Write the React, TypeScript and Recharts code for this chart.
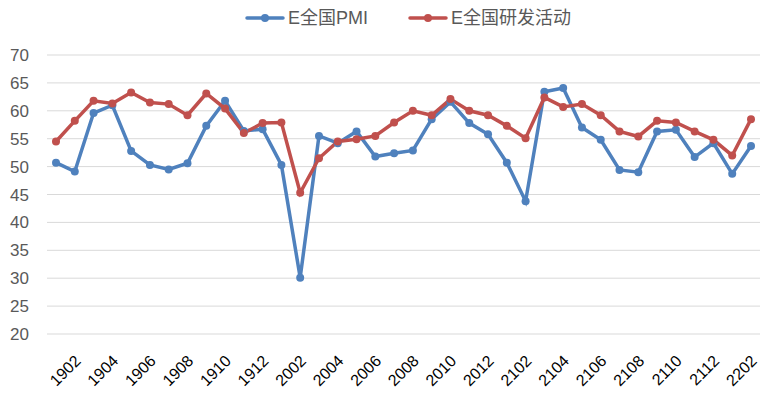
import React from "react";
import { LineChart, Line, XAxis, YAxis, CartesianGrid } from "recharts";

const MONTHS = [
  "1901", "1902", "1903", "1904", "1905", "1906", "1907", "1908", "1909", "1910", "1911", "1912",
  "2001", "2002", "2003", "2004", "2005", "2006", "2007", "2008", "2009", "2010", "2011", "2012",
  "2101", "2102", "2103", "2104", "2105", "2106", "2107", "2108", "2109", "2110", "2111", "2112",
  "2201", "2202",
];

const PMI = [
  50.7, 49.1, 59.6, 61.0, 52.8, 50.3, 49.5, 50.6, 57.3, 61.8, 56.4, 56.7,
  50.3, 30.1, 55.5, 54.2, 56.3, 51.8, 52.4, 52.9, 58.5, 61.6, 57.8, 55.8,
  50.7, 43.8, 63.4, 64.1, 57.0, 54.8, 49.4, 49.0, 56.3, 56.6, 51.7, 54.2,
  48.7, 53.7,
];

const RND = [
  54.5, 58.2, 61.8, 61.3, 63.3, 61.5, 61.2, 59.2, 63.1, 60.4, 56.0, 57.8,
  57.9, 45.3, 51.5, 54.5, 54.9, 55.5, 57.9, 60.0, 59.2, 62.1, 60.0, 59.2,
  57.3, 55.1, 62.4, 60.7, 61.2, 59.2, 56.3, 55.4, 58.2, 57.9, 56.3, 54.8,
  52.0, 58.5,
];

const Y_TICKS = [20, 25, 30, 35, 40, 45, 50, 55, 60, 65, 70];
const X_TICKS = MONTHS.filter((_, i) => i % 2 === 1);

const SERIES = [
  { key: "pmi", name: "E全国PMI", color: "#4F81BD" },
  { key: "rnd", name: "E全国研发活动", color: "#C0504D" },
];

const data = MONTHS.map((m, i) => ({ month: m, pmi: PMI[i], rnd: RND[i] }));

const FONT = "'Liberation Sans', 'Noto Sans CJK SC', sans-serif";
const TEXT = "#595959";

// rotated month labels, text ends just right of the tick
const XTick = (props: any) => {
  const { x, payload } = props;
  const ax = x + 3;
  const ay = 358;
  return (
    <text
      x={ax}
      y={ay}
      transform={`rotate(-45 ${ax} ${ay})`}
      textAnchor="end"
      dominantBaseline="central"
      fill="#000"
      fontSize={16}
      fontFamily={FONT}
    >
      {payload.value}
    </text>
  );
};

const LegendBox = () => (
  <div
    style={{
      position: "absolute",
      left: 0,
      top: 7,
      width: 766,
      boxSizing: "border-box",
      paddingLeft: 50,
      display: "flex",
      justifyContent: "center",
      gap: 40,
      fontFamily: FONT,
      fontSize: 18,
      lineHeight: "22px",
      color: TEXT,
    }}
  >
    {SERIES.map((s) => (
      <div key={s.key} style={{ display: "flex", alignItems: "center" }}>
        <svg width={40} height={12} style={{ marginRight: 3 }}>
          <line x1={2} y1={6} x2={38} y2={6} stroke={s.color} strokeWidth={3.5} strokeLinecap="round" />
          <circle cx={20} cy={6} r={4} fill={s.color} />
        </svg>
        <span>{s.name}</span>
      </div>
    ))}
  </div>
);

export default function App() {
  return (
    <div style={{ position: "fixed", left: 0, top: 0, width: 766, height: 394, background: "#fff" }}>
      <LineChart
        width={766}
        height={394}
        data={data}
        margin={{ top: 55, right: 6, bottom: 0, left: 0 }}
      >
        <CartesianGrid vertical={false} stroke="#D9D9D9" strokeWidth={1} />
        <XAxis
          dataKey="month"
          ticks={X_TICKS}
          interval={0}
          tick={<XTick />}
          tickLine={false}
          axisLine={false}
          height={60}
          padding={{ left: 9, right: 9 }}
        />
        <YAxis
          domain={[20, 70]}
          ticks={Y_TICKS}
          interval={0}
          width={47}
          tickLine={false}
          axisLine={false}
          tickMargin={12}
          tick={{ fill: TEXT, fontSize: 17, fontFamily: FONT }}
        />
        {SERIES.map((s) => (
          <Line
            key={s.key}
            dataKey={s.key}
            name={s.name}
            stroke={s.color}
            strokeWidth={3.5}
            dot={{ r: 4, fill: s.color, stroke: s.color, strokeWidth: 0 }}
            activeDot={false}
            isAnimationActive={false}
            type="linear"
          />
        ))}
      </LineChart>
      <LegendBox />
    </div>
  );
}
